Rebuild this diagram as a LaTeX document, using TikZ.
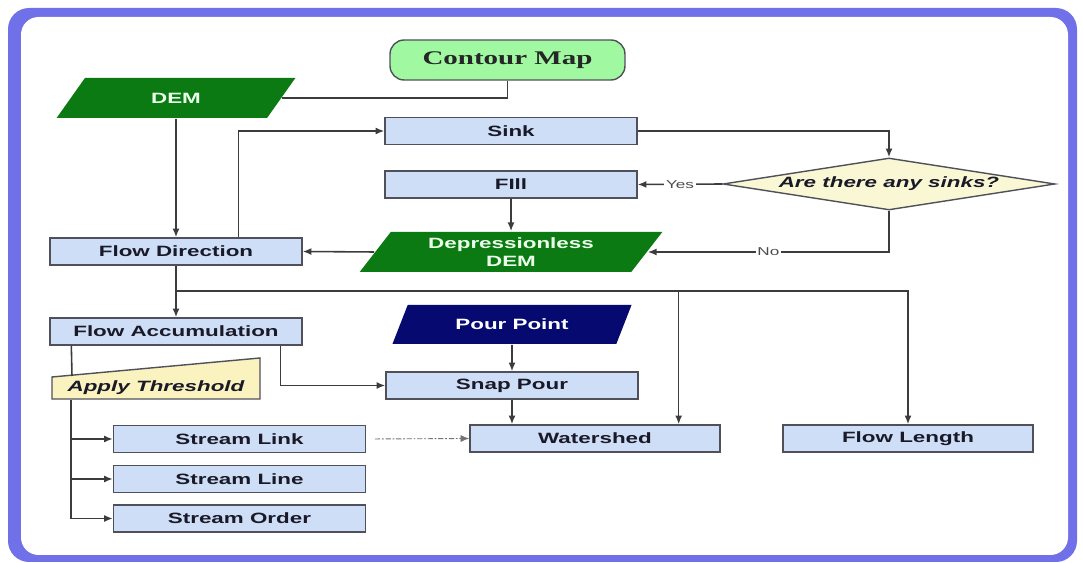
\documentclass[tikz,border=0pt]{standalone}
\usepackage{fontspec}
\setmainfont{Liberation Sans}[FakeStretch=1.5]
\newfontfamily\wideserif{Liberation Serif}[FakeStretch=1.5]
\usetikzlibrary{shapes.geometric,arrows.meta,calc,positioning}
\definecolor{frameblue}{RGB}{112,112,232}
\definecolor{boxblue}{RGB}{206,222,246}
\definecolor{boxline}{RGB}{80,80,90}
\definecolor{boxtext}{RGB}{25,25,40}
\definecolor{wire}{RGB}{60,60,60}
\definecolor{demgreen}{RGB}{12,122,18}
\definecolor{pournavy}{RGB}{6,10,112}
\definecolor{mapgreen}{RGB}{160,248,160}
\definecolor{askyellow}{RGB}{250,248,212}
\definecolor{thryellow}{RGB}{250,243,192}

\begin{document}
\begin{tikzpicture}[x=0.02cm, y=-0.02cm, line width=0.9pt, draw=wire,
   >={Latex[length=5pt,width=4pt]},
   box/.style={rectangle, draw=boxline, line width=0.8pt, fill=boxblue,
     minimum width=5.04cm, minimum height=0.54cm, inner sep=0pt,
     font=\fontsize{8.5}{10}\selectfont\bfseries, text=boxtext},
   data/.style={trapezium, trapezium left angle=53, trapezium right angle=127,
     trapezium stretches=true, minimum height=0.8cm, inner sep=0pt,
     font=\fontsize{8.5}{10}\selectfont\bfseries, align=center},
   yesno/.style={fill=white, inner sep=1pt, text=black!70,
     font=\fontsize{6.5}{8}\selectfont}]
   \useasboundingbox (0,0) rectangle (1083,563);
   \fill[frameblue, rounded corners=12] (8,8) rectangle (1077,562);
   \fill[white, rounded corners=10] (21,17) rectangle (1068,555);

   \node (contour) [rectangle, rounded corners=8, draw=boxline, line width=0.8pt,
     fill=mapgreen, minimum width=4.7cm, minimum height=0.8cm,
     font=\wideserif\fontsize{11}{13}\selectfont\bfseries, text=black!85] at (507.5,60) {Contour Map};
   \node (dem) [data, fill=demgreen, text=white!92!green, minimum width=4.78cm] at (176,98) {DEM};
   \node (fdir) [box] at (176,251.5) {Flow Direction};
   \node (sink) [box] at (511,131) {Sink};
   \node (fill) [box] at (511,184.5) {FIll};
   \node (ask) [diamond, shape aspect=6.4, draw=boxline, line width=0.8pt, fill=askyellow,
     minimum width=6.64cm, minimum height=1.04cm, inner sep=0pt,
     font=\fontsize{8.5}{10}\selectfont\bfseries\itshape, text=boxtext] at (889,184) {Are there any sinks?};
   \node (depr) [data, fill=demgreen, text=white!92!green, minimum width=6.06cm] at (511,252) {Depressionless\\DEM};
   \node (facc) [box] at (176,331.5) {Flow Accumulation};
   \node (pour) [data, fill=pournavy, text=white, minimum width=4.8cm, minimum height=0.78cm] at (512,324.5) {Pour Point};
   \node (snap) [box] at (512,385.5) {Snap Pour};
   \node (wshed) [box, minimum width=5cm] at (595,438.5) {Watershed};
   \node (flen) [box, minimum width=5cm] at (908,438.5) {Flow Length};
   \node (link) [box] at (239.5,439) {Stream Link};
   \node (sline) [box] at (239.5,479) {Stream Line};
   \node (sorder) [box] at (239.5,518.5) {Stream Order};
   \filldraw[fill=thryellow, draw=boxline, line width=0.8pt] (52,399) -- (260,399) -- (260,358) -- (52,377) -- cycle;
   \node (thr) [minimum width=4.16cm, minimum height=0.44cm, inner sep=0pt,
     font=\fontsize{8.5}{10}\selectfont\bfseries\itshape, text=boxtext] at (156,388) {Apply Threshold};
   \coordinate (split) at (176,291);
   \coordinate (thrtop) at (72,376);

   \draw (dem.east) -| (contour.south);
   \draw[->] (dem) -- (fdir);
   \draw[->] ($(fdir.north west)+(189,0)$) |- (sink.west);
   \draw[->] (sink.east) -| (ask.north);
   \draw[->] (ask.west) -- node[yesno]{Yes} (fill.east);
   \draw[->] (fill) -- (depr);
   \draw[->] (ask.south) |- node[yesno, pos=0.75]{No} (depr.east);
   \draw[->] (depr.west) -- (fdir.east);
   \draw[->] (fdir) -- (facc);
   \draw[->] (split) -| ($(wshed.north east)+(-42,0)$);
   \draw[->] (split) -| (flen.north);
   \draw[->] (pour) -- (snap);
   \draw[->] (snap) -- (snap |- wshed.north);
   \draw[->] ($(facc.south east)+(-22,0)$) |- (snap.west);
   \draw ($(facc.south west)+(22,0)$) -- (thrtop);
   \draw[->] ($(thr.south west)+(20,0)$) |- (sorder.west);
   \draw[->] (link.west -| thrtop) -- (link.west);
   \draw[->] (sline.west -| thrtop) -- (sline.west);
   \draw[->, line width=0.5pt, draw=black!55, dash pattern=on 3pt off 1pt on 1pt off 1pt,
     shorten <=5pt] (link.east) -- (wshed.west);
\end{tikzpicture}
\end{document}
